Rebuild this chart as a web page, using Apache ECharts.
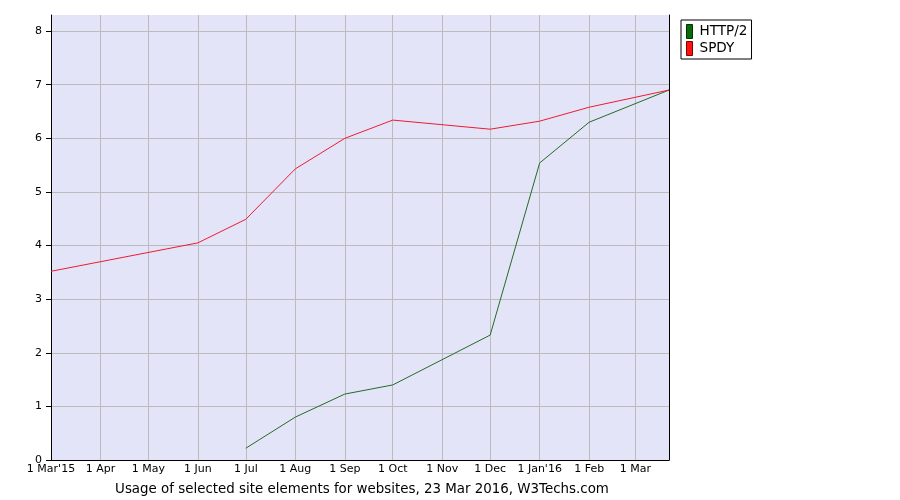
<!DOCTYPE html>
<html>
<head>
<meta charset="utf-8">
<script src="https://cdn.jsdelivr.net/npm/echarts@6/dist/echarts.min.js"></script>
<style>
  html, body { margin: 0; padding: 0; background: #fff; }
  #main { width: 900px; height: 500px; }
</style>
</head>
<body>
<div id="main"></div>
<script>
// 数据
var monthNames = ['Jan', 'Feb', 'Mar', 'Apr', 'May', 'Jun', 'Jul', 'Aug', 'Sep', 'Oct', 'Nov', 'Dec'];

var spdyDates = ['2015-03-01', '2015-06-01', '2015-07-01', '2015-08-01', '2015-09-01', '2015-10-01', '2015-12-01', '2016-01-01', '2016-02-01', '2016-03-22'];
var spdyValues = [3.52, 4.05, 4.49, 5.43, 6.00, 6.34, 6.17, 6.32, 6.58, 6.90];

var http2Dates = ['2015-07-01', '2015-08-01', '2015-09-01', '2015-10-01', '2015-12-01', '2016-01-01', '2016-02-01', '2016-03-22'];
var http2Values = [0.22, 0.80, 1.23, 1.40, 2.33, 5.54, 6.30, 6.90];

var startDate = '2015-03-01';
var endDate = '2016-03-22';

function toTime(s) {
  var p = s.split('-');
  return new Date(+p[0], +p[1] - 1, +p[2]).getTime();
}

function toPairs(dates, vals) {
  var arr = [];
  for (var i = 0; i < dates.length; i++) {
    arr.push([toTime(dates[i]), vals[i]]);
  }
  return arr;
}

var minTime = toTime(startDate);
var myChart = echarts.init(document.getElementById('main'));

var option = {
  animation: false,
  textStyle: { fontFamily: 'DejaVu Sans' },
  title: {
    text: 'Usage of selected site elements for websites, 23 Mar 2016, W3Techs.com',
    left: 357,
    textAlign: 'center',
    top: 478,
    textStyle: { fontSize: 13.4, fontWeight: 'normal', color: '#000', fontFamily: 'DejaVu Sans' }
  },
  legend: {
    orient: 'vertical',
    left: 681,
    top: 20,
    padding: [4, 4, 3, 5],
    itemGap: 2,
    itemWidth: 6,
    itemHeight: 14,
    borderColor: '#000',
    borderWidth: 1,
    icon: 'rect',
    textStyle: { fontSize: 13.6, color: '#000', padding: [0, 0, 0, 2] },
    data: [
      { name: 'HTTP/2', itemStyle: { color: '#0a6a0a', borderColor: '#003300', borderWidth: 1 } },
      { name: 'SPDY', itemStyle: { color: '#ff1010', borderColor: '#800000', borderWidth: 1 } }
    ]
  },
  grid: {
    left: 51,
    right: 231,
    top: 15,
    bottom: 40,
    show: true,
    backgroundColor: '#e4e4f9',
    borderColor: 'transparent',
    borderWidth: 0
  },
  xAxis: {
    type: 'time',
    min: minTime,
    max: toTime(endDate),
    minInterval: 28 * 86400000,
    maxInterval: 31 * 86400000,
    axisLine: { onZero: false, lineStyle: { color: '#000', width: 1 } },
    axisTick: { show: false },
    splitLine: { show: true, showMinLine: false, showMaxLine: false, lineStyle: { color: '#bbbbbb', width: 1 } },
    axisLabel: {
      color: '#000',
      fontSize: 11,
      margin: 4,
      hideOverlap: false,
      showMaxLabel: false,
      formatter: function (v) {
        var d = new Date(v);
        var m = d.getMonth();
        var s = '1 ' + monthNames[m];
        if (m == 0 || v <= minTime) {
          s += "'" + String(d.getFullYear()).substring(2);
        }
        return s;
      }
    }
  },
  yAxis: [{
    type: 'value',
    min: 0,
    max: 8.3,
    interval: 1,
    axisLine: { show: true, onZero: false, lineStyle: { color: '#000', width: 1 } },
    axisTick: { show: true, length: 5, lineStyle: { color: '#000' } },
    splitLine: { show: true, showMinLine: false, showMaxLine: false, lineStyle: { color: '#bbbbbb', width: 1 } },
    axisLabel: { color: '#000', fontSize: 11, margin: 9, showMaxLabel: false }
  }, {
    type: 'value',
    position: 'right',
    min: 0,
    max: 8.3,
    interval: 1,
    axisLine: { show: true, onZero: false, lineStyle: { color: '#000', width: 1 } },
    axisTick: { show: false },
    axisLabel: { show: false },
    splitLine: { show: false }
  }],
  series: [{
    name: 'HTTP/2',
    type: 'line',
    symbol: 'none',
    color: '#0a6a0a',
    lineStyle: { width: 1, color: '#246b24' },
    data: toPairs(http2Dates, http2Values)
  }, {
    name: 'SPDY',
    type: 'line',
    symbol: 'none',
    color: '#ff1010',
    lineStyle: { width: 1, color: '#f01a30' },
    data: toPairs(spdyDates, spdyValues)
  }]
};

myChart.setOption(option);
</script>
</body>
</html>
